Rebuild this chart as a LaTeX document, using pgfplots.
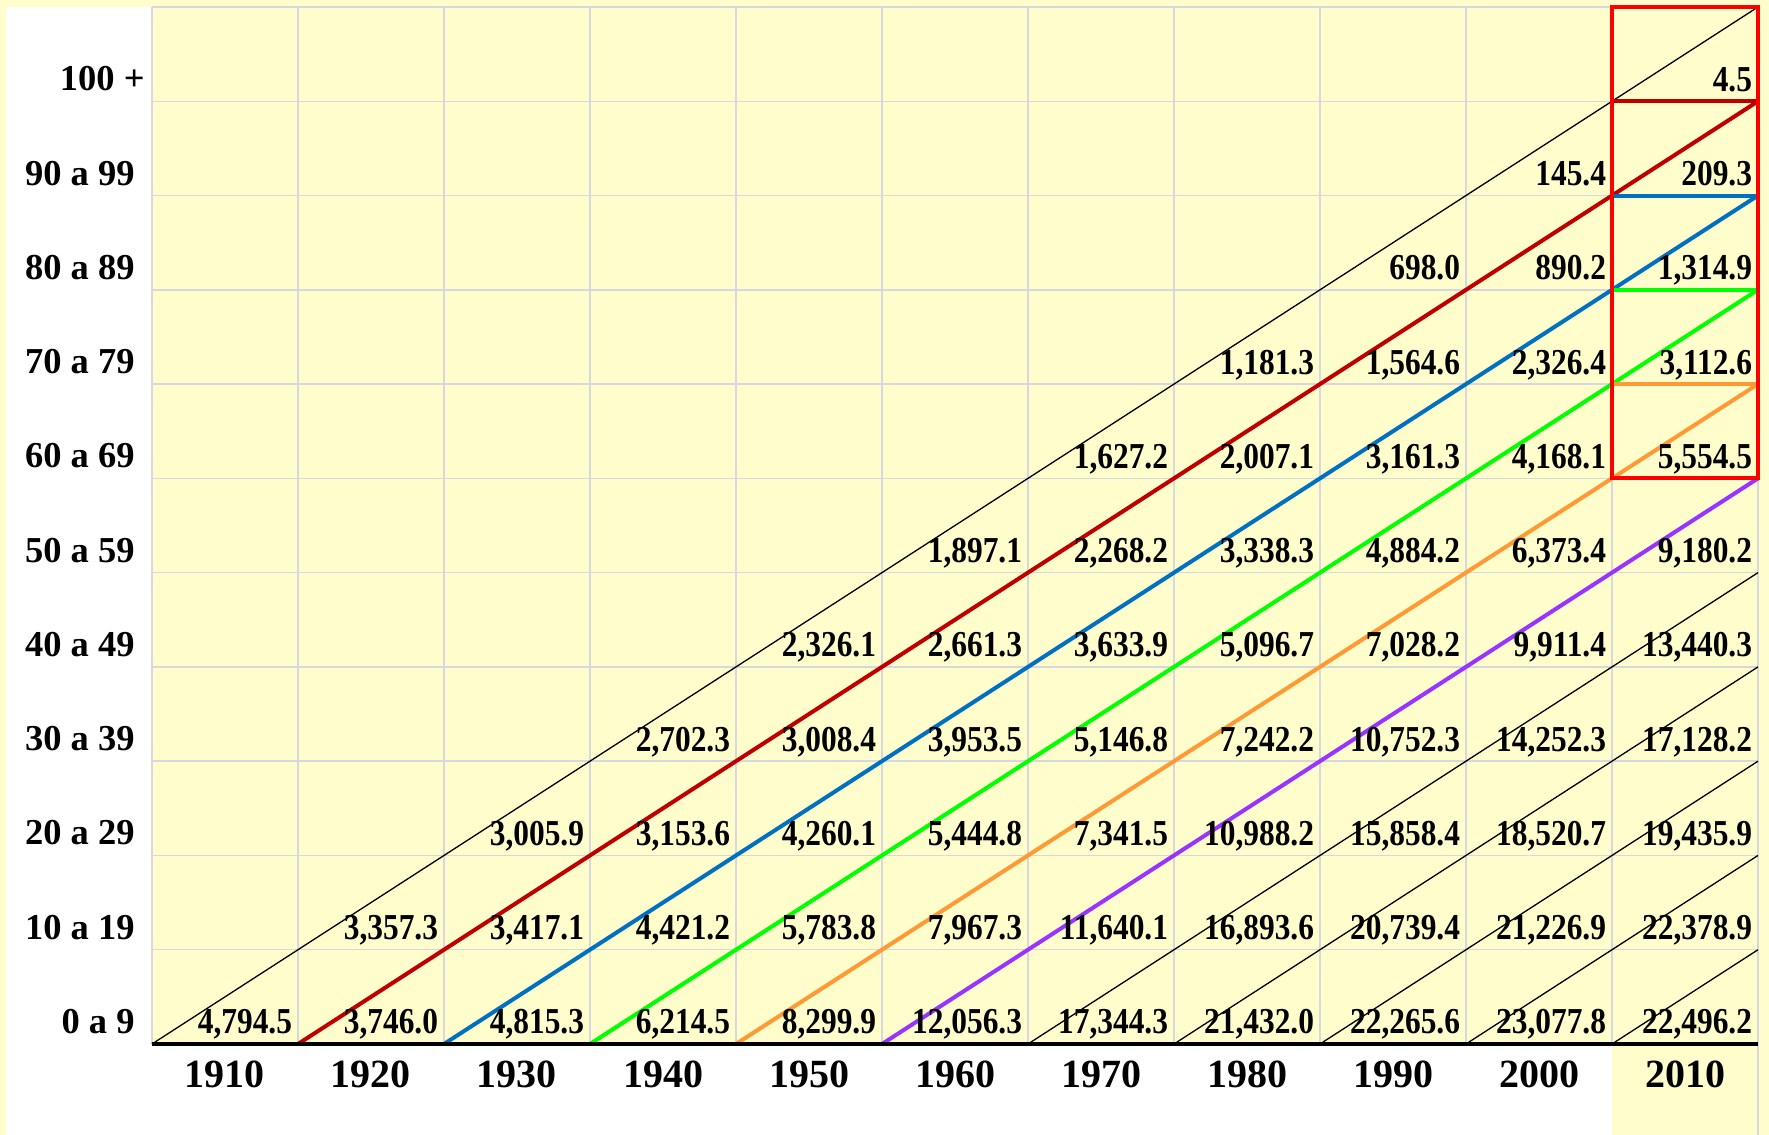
\documentclass[border=0pt]{standalone}
\usepackage{pgfplots}
\pgfplotsset{compat=1.18}
\usepackage{pgfplotstable}
\usepackage{fontspec}
\setmainfont{Liberation Serif}
\newfontfamily\valfont{Liberation Serif}[FakeStretch=0.86]
\definecolor{bgy}{HTML}{FFFDCC}
\definecolor{gridc}{HTML}{D7D7E0}
\definecolor{dred}{HTML}{C00000}
\definecolor{lblue}{HTML}{0070C0}
\definecolor{lgreen}{HTML}{00FF00}
\definecolor{lorange}{HTML}{FF9933}
\definecolor{lpurple}{HTML}{9933FF}
\definecolor{boxred}{HTML}{FF0000}

\pgfplotstableread{
x y label
1 0 4,794.5
2 0 3,746.0
2 1 3,357.3
3 0 4,815.3
3 1 3,417.1
3 2 3,005.9
4 0 6,214.5
4 1 4,421.2
4 2 3,153.6
4 3 2,702.3
5 0 8,299.9
5 1 5,783.8
5 2 4,260.1
5 3 3,008.4
5 4 2,326.1
6 0 12,056.3
6 1 7,967.3
6 2 5,444.8
6 3 3,953.5
6 4 2,661.3
6 5 1,897.1
7 0 17,344.3
7 1 11,640.1
7 2 7,341.5
7 3 5,146.8
7 4 3,633.9
7 5 2,268.2
7 6 1,627.2
8 0 21,432.0
8 1 16,893.6
8 2 10,988.2
8 3 7,242.2
8 4 5,096.7
8 5 3,338.3
8 6 2,007.1
8 7 1,181.3
9 0 22,265.6
9 1 20,739.4
9 2 15,858.4
9 3 10,752.3
9 4 7,028.2
9 5 4,884.2
9 6 3,161.3
9 7 1,564.6
9 8 698.0
10 0 23,077.8
10 1 21,226.9
10 2 18,520.7
10 3 14,252.3
10 4 9,911.4
10 5 6,373.4
10 6 4,168.1
10 7 2,326.4
10 8 890.2
10 9 145.4
11 0 22,496.2
11 1 22,378.9
11 2 19,435.9
11 3 17,128.2
11 4 13,440.3
11 5 9,180.2
11 6 5,554.5
11 7 3,112.6
11 8 1,314.9
11 9 209.3
11 10 4.5
}\vals

\begin{document}
\begin{tikzpicture}
\fill[bgy] (-76pt,-45.5pt) rectangle (808.5pt,522pt);
\fill[white] (-73pt,-45.5pt) rectangle (0pt,518.5pt);
\fill[white] (0pt,-45.5pt) rectangle (730pt,0pt);
\begin{axis}[
  scale only axis, width=803pt, height=518.5pt,
  xmin=0, xmax=11, ymin=0, ymax=11,
  clip=false,
  axis line style={draw=none},
  tick style={draw=none},
  major tick length=0pt, minor tick length=0pt,
  xtick={0.5,1.5,2.5,3.5,4.5,5.5,6.5,7.5,8.5,9.5,10.5},
  xticklabels={1910,1920,1930,1940,1950,1960,1970,1980,1990,2000,2010},
  minor xtick={0,1,2,3,4,5,6,7,8,9,10,11},
  ytick={0.111,1.111,2.111,3.111,4.111,5.111,6.111,7.111,8.111,9.111,10.111},
  yticklabels={0 a 9,10 a 19,20 a 29,30 a 39,40 a 49,50 a 59,60 a 69,70 a 79,80 a 89,90 a 99,{100 +\kern-5pt}},
  minor ytick={0,1,2,3,4,5,6,7,8,9,10,11},
  xminorgrids, yminorgrids, xmajorgrids=false, ymajorgrids=false,
  minor grid style={draw=gridc, line width=0.75pt},
  xticklabel style={font=\fontsize{20}{24}\selectfont\bfseries, anchor=base, inner sep=0pt, yshift=-21.8pt},
  yticklabel style={font=\fontsize{18.25}{22}\selectfont\bfseries, anchor=base east, inner sep=0pt, xshift=-8.5pt},
]
% thin black diagonals
\addplot[black, line width=0.65pt] coordinates {(0,0) (11,11)};
\addplot[black, line width=0.65pt] coordinates {(6,0) (11,5)};
\addplot[black, line width=0.65pt] coordinates {(7,0) (11,4)};
\addplot[black, line width=0.65pt] coordinates {(8,0) (11,3)};
\addplot[black, line width=0.65pt] coordinates {(9,0) (11,2)};
\addplot[black, line width=0.65pt] coordinates {(10,0) (11,1)};
% coloured cohorts
\addplot[dred, line width=2pt] coordinates {(1,0) (11,10)};
\addplot[lblue, line width=2pt] coordinates {(2,0) (11,9)};
\addplot[lgreen, line width=2pt] coordinates {(3,0) (11,8)};
\addplot[lorange, line width=2pt] coordinates {(4,0) (11,7)};
\addplot[lpurple, line width=2pt] coordinates {(5,0) (11,6)};
% horizontal cohort caps in 2010
\addplot[dred, line width=2pt] coordinates {(10,10) (11,10)};
\addplot[lblue, line width=2pt] coordinates {(10,9) (11,9)};
\addplot[lgreen, line width=2pt] coordinates {(10,8) (11,8)};
\addplot[lorange, line width=2pt] coordinates {(10,7) (11,7)};
% box
\addplot[boxred, line width=2pt, line cap=rect] coordinates {(10,6) (11,6) (11,11) (10,11) (10,6)};
% grid line below axis on right
\addplot[gridc, line width=0.75pt] coordinates {(11,0) (11,-0.965)};
% axis line
\addplot[black, line width=2.2pt] coordinates {(0,0) (11,0)};
% values
\addplot[draw=none, nodes near coords, point meta=explicit symbolic,
  nodes near coords align={center},
  every node near coord/.append style={font=\valfont\fontsize{18.25}{22}\selectfont\bfseries, anchor=base east, inner sep=0pt, xshift=-2.8pt, yshift=5pt}]
  table[x=x, y=y, meta=label] {\vals};
\end{axis}
\pgfresetboundingbox
\path[use as bounding box] (-76pt,-45.5pt) rectangle (808.5pt,522pt);
\end{tikzpicture}
\end{document}
